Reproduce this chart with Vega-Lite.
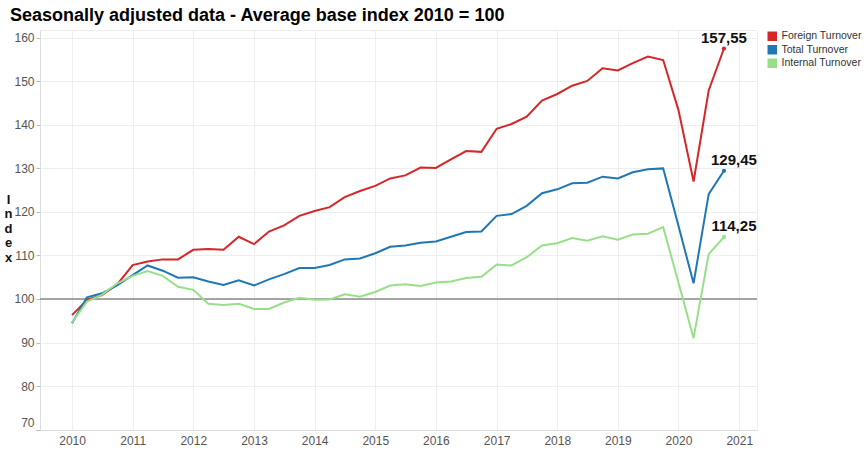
{
  "$schema": "https://vega.github.io/schema/vega-lite/v6.json",
  "width": 717,
  "height": 400,
  "autosize": {"type": "none"},
  "padding": {"left": 40, "top": 30, "right": 110, "bottom": 20},
  "background": "white",
  "title": {
    "text": "Seasonally adjusted data - Average base index 2010 = 100",
    "anchor": "start",
    "frame": "group",
    "dx": -30,
    "offset": -9,
    "baseline": "alphabetic",
    "font": "Liberation Sans",
    "fontSize": 18,
    "fontWeight": "bold",
    "color": "#000000"
  },
  "config": {
    "locale": {"number": {"decimal": ",", "thousands": ".", "grouping": [3], "currency": ["", " €"]}},
    "view": {"stroke": "#eeeeee"},
    "font": "Liberation Sans"
  },
  "data": {
    "values": [
      {"date": "2010-01-01", "Foreign Turnover": 96.3, "Total Turnover": 94.4, "Internal Turnover": 94.6},
      {"date": "2010-04-01", "Foreign Turnover": 99.8, "Total Turnover": 100.4, "Internal Turnover": 99.4},
      {"date": "2010-07-01", "Foreign Turnover": 100.9, "Total Turnover": 101.3, "Internal Turnover": 101.0},
      {"date": "2010-10-01", "Foreign Turnover": 103.4, "Total Turnover": 103.2, "Internal Turnover": 103.6},
      {"date": "2011-01-01", "Foreign Turnover": 107.8, "Total Turnover": 105.5, "Internal Turnover": 105.3},
      {"date": "2011-04-01", "Foreign Turnover": 108.6, "Total Turnover": 107.7, "Internal Turnover": 106.4},
      {"date": "2011-07-01", "Foreign Turnover": 109.1, "Total Turnover": 106.5, "Internal Turnover": 105.3},
      {"date": "2011-10-01", "Foreign Turnover": 109.1, "Total Turnover": 104.9, "Internal Turnover": 102.8},
      {"date": "2012-01-01", "Foreign Turnover": 111.3, "Total Turnover": 105.0, "Internal Turnover": 102.1},
      {"date": "2012-04-01", "Foreign Turnover": 111.5, "Total Turnover": 104.0, "Internal Turnover": 98.9},
      {"date": "2012-07-01", "Foreign Turnover": 111.3, "Total Turnover": 103.2, "Internal Turnover": 98.6},
      {"date": "2012-10-01", "Foreign Turnover": 114.3, "Total Turnover": 104.3, "Internal Turnover": 98.9},
      {"date": "2013-01-01", "Foreign Turnover": 112.6, "Total Turnover": 103.1, "Internal Turnover": 97.7},
      {"date": "2013-04-01", "Foreign Turnover": 115.5, "Total Turnover": 104.5, "Internal Turnover": 97.7},
      {"date": "2013-07-01", "Foreign Turnover": 116.9, "Total Turnover": 105.7, "Internal Turnover": 99.2},
      {"date": "2013-10-01", "Foreign Turnover": 119.1, "Total Turnover": 107.1, "Internal Turnover": 100.3},
      {"date": "2014-01-01", "Foreign Turnover": 120.2, "Total Turnover": 107.1, "Internal Turnover": 99.8},
      {"date": "2014-04-01", "Foreign Turnover": 121.1, "Total Turnover": 107.8, "Internal Turnover": 99.9},
      {"date": "2014-07-01", "Foreign Turnover": 123.4, "Total Turnover": 109.1, "Internal Turnover": 101.1},
      {"date": "2014-10-01", "Foreign Turnover": 124.8, "Total Turnover": 109.3, "Internal Turnover": 100.5},
      {"date": "2015-01-01", "Foreign Turnover": 126.0, "Total Turnover": 110.5, "Internal Turnover": 101.6},
      {"date": "2015-04-01", "Foreign Turnover": 127.7, "Total Turnover": 112.0, "Internal Turnover": 103.1},
      {"date": "2015-07-01", "Foreign Turnover": 128.4, "Total Turnover": 112.3, "Internal Turnover": 103.4},
      {"date": "2015-10-01", "Foreign Turnover": 130.2, "Total Turnover": 112.9, "Internal Turnover": 103.0},
      {"date": "2016-01-01", "Foreign Turnover": 130.1, "Total Turnover": 113.2, "Internal Turnover": 103.8},
      {"date": "2016-04-01", "Foreign Turnover": 132.1, "Total Turnover": 114.3, "Internal Turnover": 104.0},
      {"date": "2016-07-01", "Foreign Turnover": 134.0, "Total Turnover": 115.4, "Internal Turnover": 104.8},
      {"date": "2016-10-01", "Foreign Turnover": 133.8, "Total Turnover": 115.5, "Internal Turnover": 105.1},
      {"date": "2017-01-01", "Foreign Turnover": 139.1, "Total Turnover": 119.1, "Internal Turnover": 107.9},
      {"date": "2017-04-01", "Foreign Turnover": 140.2, "Total Turnover": 119.5, "Internal Turnover": 107.7},
      {"date": "2017-07-01", "Foreign Turnover": 141.9, "Total Turnover": 121.4, "Internal Turnover": 109.6},
      {"date": "2017-10-01", "Foreign Turnover": 145.6, "Total Turnover": 124.3, "Internal Turnover": 112.3},
      {"date": "2018-01-01", "Foreign Turnover": 147.1, "Total Turnover": 125.2, "Internal Turnover": 112.8},
      {"date": "2018-04-01", "Foreign Turnover": 149.0, "Total Turnover": 126.6, "Internal Turnover": 114.0},
      {"date": "2018-07-01", "Foreign Turnover": 150.1, "Total Turnover": 126.7, "Internal Turnover": 113.4},
      {"date": "2018-10-01", "Foreign Turnover": 153.0, "Total Turnover": 128.1, "Internal Turnover": 114.4},
      {"date": "2019-01-01", "Foreign Turnover": 152.5, "Total Turnover": 127.7, "Internal Turnover": 113.6},
      {"date": "2019-04-01", "Foreign Turnover": 154.2, "Total Turnover": 129.1, "Internal Turnover": 114.8},
      {"date": "2019-07-01", "Foreign Turnover": 155.7, "Total Turnover": 129.8, "Internal Turnover": 115.0},
      {"date": "2019-10-01", "Foreign Turnover": 154.9, "Total Turnover": 130.0, "Internal Turnover": 116.5},
      {"date": "2020-01-01", "Foreign Turnover": 143.4, "Total Turnover": 116.8, "Internal Turnover": 103.8},
      {"date": "2020-04-01", "Foreign Turnover": 127.0, "Total Turnover": 103.6, "Internal Turnover": 91.0},
      {"date": "2020-07-01", "Foreign Turnover": 147.9, "Total Turnover": 124.1, "Internal Turnover": 110.3},
      {"date": "2020-10-01", "Foreign Turnover": 157.55, "Total Turnover": 129.45, "Internal Turnover": 114.25}
    ]
  },
  "transform": [
    {"fold": ["Foreign Turnover", "Total Turnover", "Internal Turnover"], "as": ["series", "value"]}
  ],
  "encoding": {
    "x": {
      "field": "date",
      "type": "temporal",
      "title": null,
      "scale": {
        "type": "utc",
        "domain": [
          {"year": 2009, "month": 6, "date": 22, "utc": true},
          {"year": 2021, "month": 4, "date": 18, "utc": true}
        ]
      },
      "axis": {
        "values": [
          {"year": 2010, "utc": true}, {"year": 2011, "utc": true}, {"year": 2012, "utc": true},
          {"year": 2013, "utc": true}, {"year": 2014, "utc": true}, {"year": 2015, "utc": true},
          {"year": 2016, "utc": true}, {"year": 2017, "utc": true}, {"year": 2018, "utc": true},
          {"year": 2019, "utc": true}, {"year": 2020, "utc": true}, {"year": 2021, "utc": true}
        ],
        "format": "%Y",
        "grid": true,
        "gridColor": "#eeeeee",
        "ticks": false,
        "domainColor": "#dddddd",
        "labelColor": "#555555",
        "labelFontSize": 12,
        "labelFont": "Liberation Sans",
        "labelPadding": 5,
        "labelFlush": false
      }
    },
    "y": {
      "field": "value",
      "type": "quantitative",
      "scale": {"domain": [69.9, 161.8], "nice": false, "zero": false},
      "axis": {
        "values": [70, 80, 90, 100, 110, 120, 130, 140, 150, 160],
        "title": ["I", "n", "d", "e", "x"],
        "titleAngle": 0,
        "titleAlign": "center",
        "titleBaseline": "middle",
        "titleX": -32,
        "titleY": 169,
        "titleFont": "Liberation Sans",
        "titleFontSize": 13,
        "titleFontWeight": "bold",
        "titleLineHeight": 14.5,
        "titleColor": "#111111",
        "grid": true,
        "gridColor": "#eeeeee",
        "tickColor": "#bbbbbb",
        "tickSize": 4,
        "domainColor": "#dddddd",
        "labelColor": "#555555",
        "labelFontSize": 12,
        "labelFont": "Liberation Sans",
        "labelPadding": 2,
        "labelFlush": 2
      }
    },
    "color": {
      "field": "series",
      "type": "nominal",
      "scale": {
        "domain": ["Foreign Turnover", "Total Turnover", "Internal Turnover"],
        "range": ["#d62728", "#1f77b4", "#98df8a"]
      },
      "legend": {
        "orient": "none",
        "legendX": 727,
        "legendY": 1,
        "title": null,
        "padding": 0,
        "symbolType": "square",
        "symbolSize": 90,
        "labelFontSize": 10.5,
        "labelFont": "Liberation Sans",
        "labelColor": "#333333",
        "labelOffset": 4,
        "labelLimit": 200,
        "rowPadding": 2.5,
        "encode": {
          "symbols": {
            "update": {
              "fill": {"scale": "color", "field": "value"},
              "strokeWidth": {"value": 0},
              "opacity": {"value": 1}
            }
          }
        }
      }
    }
  },
  "layer": [
    {
      "data": {"values": [{"ref": 100}]},
      "transform": [],
      "mark": {"type": "rule", "color": "#888888", "strokeWidth": 1.5},
      "encoding": {"x": null, "color": null, "y": {"field": "ref", "type": "quantitative"}}
    },
    {
      "mark": {"type": "line", "strokeWidth": 2}
    },
    {
      "transform": [{"filter": "time(datum.date) == time(toDate('2020-10-01'))"}],
      "mark": {"type": "point", "filled": true, "size": 18, "opacity": 1}
    },
    {
      "transform": [
        {"filter": "time(datum.date) == time(toDate('2020-10-01'))"},
        {"filter": "datum.series == 'Foreign Turnover'"}
      ],
      "mark": {"type": "text", "fontSize": 15, "fontWeight": "bold", "font": "Liberation Sans", "color": "#111111", "baseline": "alphabetic", "align": "center", "dy": -5},
      "encoding": {"text": {"field": "value", "type": "quantitative", "format": ".2f"}, "color": null}
    },
    {
      "transform": [
        {"filter": "time(datum.date) == time(toDate('2020-10-01'))"},
        {"filter": "datum.series != 'Foreign Turnover'"}
      ],
      "mark": {"type": "text", "fontSize": 15, "fontWeight": "bold", "font": "Liberation Sans", "color": "#111111", "baseline": "alphabetic", "align": "center", "dx": 10, "dy": -6},
      "encoding": {"text": {"field": "value", "type": "quantitative", "format": ".2f"}, "color": null}
    }
  ]
}
